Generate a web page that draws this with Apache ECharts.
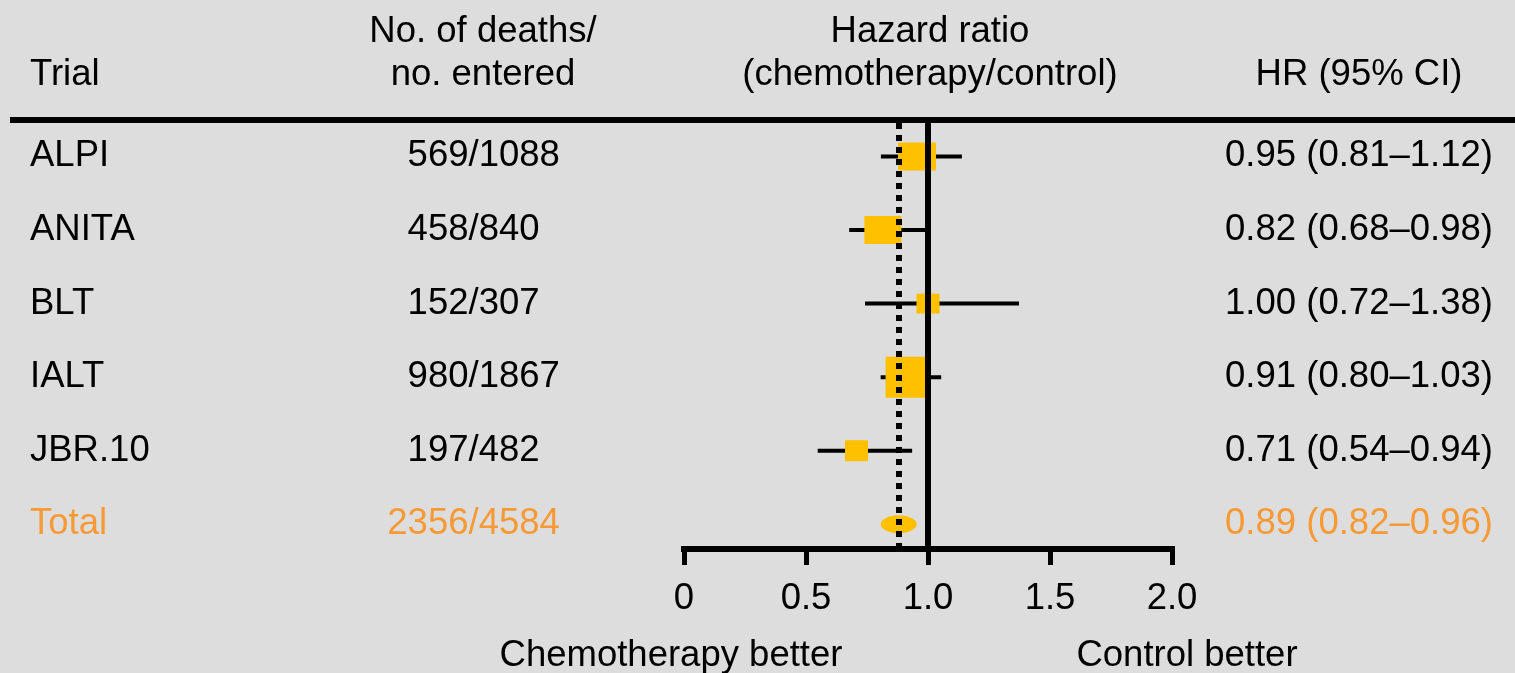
<!DOCTYPE html>
<html><head><meta charset="utf-8">
<script src="https://cdn.jsdelivr.net/npm/echarts@6/dist/echarts.min.js"></script>
<style>html,body{margin:0;padding:0;background:#DDDDDD;}#c{width:1515px;height:673px;}</style>
</head><body><div id="c"></div>
<script>
// ---------- data ----------
const trials   = ['ALPI', 'ANITA', 'BLT', 'IALT', 'JBR.10'];
const deaths   = ['569', '458', '152', '980', '197'];
const entered  = ['1088', '840', '307', '1867', '482'];
const hr       = [0.955, 0.815, 1.0, 0.91, 0.707];
const ciLow    = [0.807, 0.677, 0.742, 0.806, 0.548];
const ciHigh   = [1.139, 1.0, 1.373, 1.054, 0.935];
const hrText   = ['0.95 (0.81–1.12)', '0.82 (0.68–0.98)', '1.00 (0.72–1.38)', '0.91 (0.80–1.03)', '0.71 (0.54–0.94)'];
const totalName = 'Total';
const totalDeaths = '2356';
const totalEntered = '4584';
const totalHr = 0.88;
const totalHrText = '0.89 (0.82–0.96)';
const refValue = 1.0;
const xTickValues = [0, 0.5, 1, 1.5, 2];
const xTickLabels = ['0', '0.5', '1.0', '1.5', '2.0'];
const headers = {
  trial: 'Trial',
  deaths: ['No. of deaths/', 'no. entered'],
  hr: ['Hazard ratio', '(chemotherapy/control)'],
  ci: 'HR (95% CI)'
};
const favourLeft = 'Chemotherapy better';
const favourRight = 'Control better';

// ---------- styles ----------
const FONT = "'Liberation Sans', Arial, Helvetica, sans-serif";
const FS = 36.5;
const BLACK = '#000000';
const ORANGE = '#F79A36';
const YELLOW = '#FFC000';
const boxSizes = [[38, 28], [37, 28], [23, 20], [41, 41], [23, 21]];
const ellipseSize = [36, 18];
const ellipsePath = 'path://M0,1 C0,0.448 0.448,0 1,0 C1.552,0 2,0.448 2,1 C2,1.552 1.552,2 1,2 C0.448,2 0,1.552 0,1 Z';

const chart = echarts.init(document.getElementById('c'), null, {renderer: 'canvas'});

const rowsAll = trials.map((t, i) => ({name: t, d: deaths[i], n: entered[i], txt: hrText[i], total: false}))
  .concat([{name: totalName, d: totalDeaths, n: totalEntered, txt: totalHrText, total: true}]);

function txt(x, y, text, align, color) {
  return {type: 'text', x: x, y: y, style: {text: text, fill: color, fontSize: FS, fontFamily: FONT, align: align, verticalAlign: 'middle'}};
}

const option = {
  backgroundColor: '#DDDDDD',
  animation: false,
  grid: {left: 684, right: 1515 - 1172, top: 123, bottom: 673 - 549, containLabel: false},
  xAxis: {
    type: 'value', min: 0, max: 2, interval: 0.5,
    axisLine: {show: true, onZero: false, lineStyle: {color: BLACK, width: 6, cap: 'square'}},
    axisTick: {show: true, length: 16, lineStyle: {color: BLACK, width: 5}},
    axisLabel: {
      show: true, margin: 31, color: BLACK, fontSize: FS, fontFamily: FONT,
      formatter: function (v) { const k = xTickValues.indexOf(v); return k >= 0 ? xTickLabels[k] : ''; }
    },
    splitLine: {show: false}
  },
  yAxis: {type: 'value', inverse: true, min: -0.454, max: 5.336, show: false, splitLine: {show: false}},
  graphic: [
    {type: 'line', shape: {x1: 10, y1: 120, x2: 1515, y2: 120}, style: {stroke: BLACK, lineWidth: 6}},
    txt(30, 75, headers.trial, 'left', BLACK),
    txt(483, 32, headers.deaths[0], 'center', BLACK),
    txt(483, 75, headers.deaths[1], 'center', BLACK),
    txt(930, 32, headers.hr[0], 'center', BLACK),
    txt(930, 75, headers.hr[1], 'center', BLACK),
    txt(1359, 75, headers.ci, 'center', BLACK),
    txt(671, 656, favourLeft, 'center', BLACK),
    txt(1187, 656, favourRight, 'center', BLACK)
  ],
  series: [
    {
      type: 'scatter', z: 1, data: [], symbolSize: 0, silent: true,
      markLine: {
        silent: true, symbol: ['none', 'none'], label: {show: false}, animation: false,
        data: [
          {xAxis: refValue, lineStyle: {color: BLACK, width: 6, type: 'solid'}},
          {xAxis: totalHr, lineStyle: {color: BLACK, width: 6, type: [6, 6]}}
        ]
      }
    },
    {
      type: 'custom', z: 2, clip: false, silent: true,
      data: hr.map((h, i) => [ciLow[i], ciHigh[i], i]),
      encode: {x: [0, 1], y: 2},
      renderItem: function (params, api) {
        const a = api.coord([api.value(0), api.value(2)]);
        const b = api.coord([api.value(1), api.value(2)]);
        return {type: 'line', shape: {x1: a[0], y1: a[1], x2: b[0], y2: b[1]}, style: {stroke: BLACK, lineWidth: 4}};
      }
    },
    {
      type: 'scatter', z: 3, silent: true, symbol: 'rect',
      data: hr.map((h, i) => [h, i]),
      symbolSize: function (val, p) { return boxSizes[p.dataIndex]; },
      itemStyle: {color: YELLOW, opacity: 1}
    },
    {
      type: 'scatter', z: 3, silent: true, symbol: ellipsePath,
      data: [[totalHr, trials.length]],
      symbolSize: ellipseSize,
      itemStyle: {color: YELLOW, opacity: 1}
    },
    {
      type: 'custom', z: 4, clip: false, silent: true,
      data: rowsAll.map((r, i) => [1, i]),
      encode: {x: 0, y: 1},
      renderItem: function (params, api) {
        const r = rowsAll[params.dataIndex];
        const y = api.coord([1, api.value(1)])[1];
        const c = r.total ? ORANGE : BLACK;
        return {type: 'group', children: [
          txt(30, y, r.name, 'left', c),
          txt(468.5, y, r.d, 'right', c),
          txt(468.5, y, '/' + r.n, 'left', c),
          txt(1359, y, r.txt, 'center', c)
        ]};
      }
    }
  ]
};
chart.setOption(option);
</script>
</body></html>
